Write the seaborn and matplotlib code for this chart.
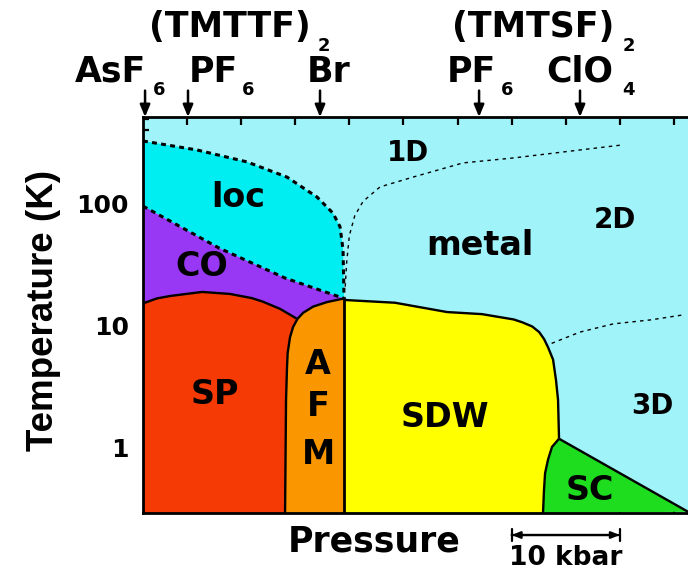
import matplotlib
matplotlib.use("Agg")
import numpy as np
import matplotlib.pyplot as plt
import seaborn as sns
from matplotlib.ticker import LogLocator, NullFormatter

# ---------------- data (pressure in kbar-like units, temperature in K) ----------------
P_MIN, P_MAX = -4.07, 46.3
T_MIN, T_MAX = 0.293, 516

# loc / metal boundary (dashed)
loc_P = [-4.07, 0.92, 5.55, 9.24, 12.01, 13.49, 14.14, 14.42, 14.51]
loc_T = [328, 277, 221, 166, 114, 84, 65, 42, 16.8]
# CO / loc boundary (dashed)
co_P = [-4.07, 2.96, 9.06, 14.51]
co_T = [96, 43.5, 24.7, 16.8]
# SP upper boundary
sp_P = [-4.07, -2.8, -1.57, 1.39, 3.97, 6.0, 7.02, 8.6, 10.2]
sp_T = [15.3, 16.8, 17.6, 19.0, 18.3, 16.9, 15.8, 13.8, 11.4]
# SP / AFM boundary (top -> bottom)
spafm_P = [10.2, 9.80, 9.52, 9.30, 9.24, 9.15, 9.06]
spafm_T = [11.4, 9.8, 8.1, 6.0, 4.6, 2.47, T_MIN]
# AFM upper boundary
afm_P = [10.2, 10.72, 11.65, 12.94, 14.51]
afm_T = [11.4, 12.8, 14.4, 15.7, 16.8]
# AFM / SDW boundary
afmsdw_P = [14.51, 14.51]
afmsdw_T = [16.8, T_MIN]
# SDW upper / right boundary
sdw_P = [14.51, 14.70, 19.22, 24.03, 27.26, 30.2, 31.0, 31.9, 32.55, 33.0, 33.36, 33.83, 34.10, 34.29, 34.38]
sdw_T = [16.8, 16.3, 15.5, 13.0, 12.5, 11.3, 10.7, 9.9, 8.9, 7.8, 6.7, 5.3, 3.6, 2.47, 1.19]
# SC left boundary
scl_P = [34.38, 33.73, 33.36, 33.09, 32.99, 32.90]
scl_T = [1.19, 1.02, 0.80, 0.62, 0.45, T_MIN]
# SC upper boundary
sct_P = [34.38, 46.3]
sct_T = [1.19, 0.30]
# 1D / 2D crossover (dotted)
d12_P = [14.62, 14.75, 15.0, 15.5, 16.27, 17.84, 20.89, 25.51, 30.13, 36.32, 40.30]
d12_T = [21, 33, 55, 80, 105, 138, 166, 217, 238, 277, 305]
# 2D / 3D crossover (dotted)
d23_P = [33.7, 36.3, 39.4, 42.8, 45.8]
d23_T = [7.2, 8.9, 10.4, 11.2, 12.3]

# salts on the pressure axis
salt_P = [-3.88, 0.09, 12.29, 26.99, 36.32]

region_labels = ["1D", "loc", "2D", "metal", "CO", "A", "F", "M", "SP", "SDW", "3D", "SC"]
region_P = [20.42, 4.71, 39.56, 27.08, 1.39, 12.11, 12.11, 12.11, 2.59, 23.84, 42.98, 37.25]
region_T = [262, 114, 74, 46, 30.5, 4.8, 2.17, 0.88, 2.72, 1.79, 2.21, 0.45]
region_size = [20, 24, 20, 24, 24, 24, 24, 24, 24, 24, 20, 24]

colors = {
    "metal": "#9ff3f9",
    "loc": "#00eef2",
    "CO": "#9838f5",
    "SP": "#f53a05",
    "AFM": "#fa9600",
    "SDW": "#ffff00",
    "SC": "#1edc1e",
}

# ---------------- figure ----------------
sns.set_theme(style="ticks")
plt.rcParams["font.family"] = ["DejaVu Sans"]
plt.rcParams["font.weight"] = "bold"
for key in ["text.color", "axes.labelcolor", "xtick.color", "ytick.color", "axes.edgecolor"]:
    plt.rcParams[key] = "black"

W, H = 688, 573
fig = plt.figure(figsize=(W / 100, H / 100), dpi=100)
fig.patch.set_facecolor("white")
ax = fig.add_axes([143 / W, (H - 513) / H, (W - 143) / W, 396 / H])
ax.set_yscale("log")
ax.set_facecolor(colors["metal"])


def cat(*parts):
    return np.concatenate([np.asarray(p, dtype=float) for p in parts])


# polygons
ax.fill(cat(loc_P, co_P[::-1]), cat(loc_T, co_T[::-1]), color=colors["loc"], lw=0)
ax.fill(cat(co_P, [14.51, P_MIN]), cat(co_T, [T_MIN, T_MIN]), color=colors["CO"], lw=0)
ax.fill(cat(sp_P, spafm_P[1:], [P_MIN]), cat(sp_T, spafm_T[1:], [T_MIN]), color=colors["SP"], lw=0)
ax.fill(cat(spafm_P[::-1], afm_P[1:], afmsdw_P[1:]), cat(spafm_T[::-1], afm_T[1:], afmsdw_T[1:]),
        color=colors["AFM"], lw=0)
ax.fill(cat(afmsdw_P[1:], sdw_P, scl_P[1:]), cat(afmsdw_T[1:], sdw_T, scl_T[1:]), color=colors["SDW"], lw=0)
ax.fill(cat(scl_P, [sct_P[1]]), cat(scl_T, [sct_T[1]]), color=colors["SC"], lw=0)


def boundary(P, T, lw=1.7, ls="-"):
    sns.lineplot(x=P, y=T, sort=False, estimator=None, color="black", lw=lw, ax=ax)
    line = ax.lines[-1]
    line.set_linestyle(ls)
    line.set_solid_capstyle("butt")
    line.set_solid_joinstyle("round")


boundary(loc_P, loc_T, lw=2.2, ls=(0, (1.6, 1.4)))
boundary(co_P, co_T, lw=2.2, ls=(0, (1.6, 1.4)))
boundary(sp_P, sp_T)
boundary(spafm_P, spafm_T)
boundary(afm_P, afm_T)
boundary(afmsdw_P, afmsdw_T, lw=2.0)
boundary(sdw_P, sdw_T)
boundary(scl_P, scl_T)
boundary(sct_P, sct_T)
boundary(d12_P, d12_T, lw=1.0, ls=(0, (2.5, 3)))
boundary(d23_P, d23_T, lw=1.0, ls=(0, (2.5, 3)))

for lab, p, t, s in zip(region_labels, region_P, region_T, region_size):
    ax.text(p, t, lab, ha="center", va="center", fontsize=s, fontweight="bold", color="black")

ax.set_xlim(P_MIN, P_MAX)
ax.set_ylim(T_MIN, T_MAX)
ax.set_xlabel("")
ax.set_ylabel("")

ax.set_xticks(np.arange(0, 50, 5))
ax.set_xticklabels([])
ax.set_yticks([1, 10, 100])
ax.set_yticklabels(["1", "10", "100"])
ax.yaxis.set_minor_locator(LogLocator(base=10, subs=np.arange(2, 10)))
ax.yaxis.set_minor_formatter(NullFormatter())
ax.tick_params(axis="both", which="both", direction="in", top=True, right=False,
               labeltop=False, labelbottom=False, color="black", labelcolor="black", width=1.6)
ax.tick_params(axis="x", which="major", length=6)
ax.tick_params(axis="y", which="major", length=8, pad=10, labelsize=18)
ax.tick_params(axis="y", which="minor", length=4.5)
for lab in ax.get_yticklabels():
    lab.set_fontweight("bold")
for side in ["left", "top", "bottom"]:
    ax.spines[side].set_linewidth(2.0)
    ax.spines[side].set_color("black")
ax.spines["right"].set_visible(False)

# arrows marking the salts
for p in salt_P:
    ax.annotate("", xy=(p, 1.0), xycoords=("data", "axes fraction"),
                xytext=(0, 19), textcoords="offset points",
                arrowprops=dict(arrowstyle="-|>,head_length=0.6,head_width=0.25",
                                color="black", lw=1.8, shrinkA=0, shrinkB=0),
                annotation_clip=False)

# scale bar
ax.annotate("", xy=(40, -0.0556), xycoords=("data", "axes fraction"),
            xytext=(30, -0.0556), textcoords=("data", "axes fraction"),
            arrowprops=dict(arrowstyle="|-|,widthA=0.35,widthB=0.35", color="black",
                            lw=1.6, shrinkA=0, shrinkB=0), annotation_clip=False)
ax.annotate("", xy=(40, -0.0556), xycoords=("data", "axes fraction"),
            xytext=(30, -0.0556), textcoords=("data", "axes fraction"),
            arrowprops=dict(arrowstyle="<|-|>,head_length=0.5,head_width=0.2", color="black",
                            lw=1.6, shrinkA=0, shrinkB=0, mutation_scale=10), annotation_clip=False)


def fpos(x, y):
    return x / W, 1 - y / H


fig.text(*fpos(566, 558), "10 kbar", ha="center", va="center", fontsize=19, fontweight="bold",
         color="black")
fig.text(*fpos(374, 541), "Pressure", ha="center", va="center", fontsize=25, fontweight="bold",
         color="black")
fig.text(*fpos(44, 310), "Temperature (K)", ha="center", va="center", rotation=90,
         fontsize=26.5, fontweight="bold", family=["Liberation Sans", "DejaVu Sans"], color="black")

# top compound labels
top_main = [("(TMTTF)", 149, 37), ("(TMTSF)", 452, 37),
            ("AsF", 75, 82), ("PF", 189, 82), ("Br", 307, 82), ("PF", 447, 82), ("ClO", 546, 82)]
top_sub = [("2", 324, 46), ("2", 629, 46), ("6", 159, 90), ("6", 248, 90), ("6", 507, 90), ("4", 628, 90)]
for s, x, y in top_main:
    fig.text(*fpos(x, y), s, ha="left", va="baseline", fontsize=25, fontweight="bold", color="black")
for s, x, y in top_sub:
    fig.text(*fpos(x, y), s, ha="center", va="center", fontsize=13, fontweight="bold", color="black")

fig.savefig("out.png", dpi=100)
